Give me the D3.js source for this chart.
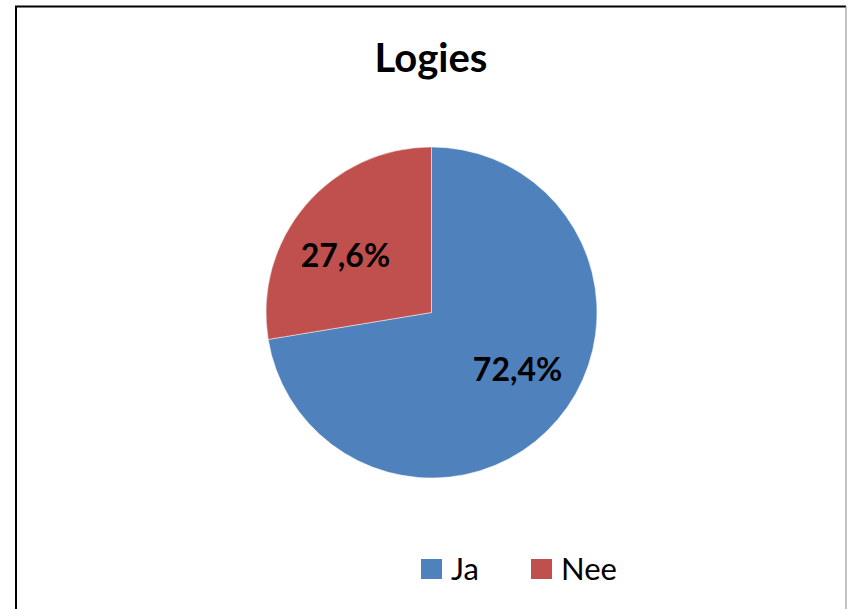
<!DOCTYPE html>
<html>
<head>
<meta charset="utf-8">
<script src="https://cdn.jsdelivr.net/npm/d3@7.9.0/dist/d3.min.js"></script>
<style>
  html, body { margin: 0; padding: 0; background: #fff; }
  svg { display: block; font-family: Lato, "Noto Sans", sans-serif; }
</style>
</head>
<body>
<svg id="chart" width="847" height="609"></svg>
<script>
const title = 'Logies';
const categories = ['Ja', 'Nee'];
const values = [72.4, 27.6];
const colors = ['#4F81BD', '#C0504D'];

const width = 847, height = 609;
const cx = 431.5, cy = 312.5, radius = 165.5;

let svg = d3.select('#chart');

// frame
svg.append('line').attr('x1', 15).attr('x2', 846).attr('y1', 6.5).attr('y2', 6.5)
  .attr('stroke', '#000').attr('stroke-width', 2);
svg.append('line').attr('x1', 16).attr('x2', 16).attr('y1', 6).attr('y2', height)
  .attr('stroke', '#000').attr('stroke-width', 2);
svg.append('line').attr('x1', 846).attr('x2', 846).attr('y1', 6).attr('y2', height)
  .attr('stroke', '#888').attr('stroke-width', 1);

svg.append('text')
  .attr('x', 431).attr('y', 72)
  .attr('text-anchor', 'middle')
  .style('font-size', '40px').style('font-weight', 'bold')
  .text(title);

let data = categories.map((c, i) => ({ label: c, value: values[i] }));
let pie = d3.pie().value(d => d.value).sort(null);
let arcData = pie(data);
let arcGenerator = d3.arc().innerRadius(0).outerRadius(radius);

let g = svg.append('g').attr('transform', `translate(${cx},${cy})`);

g.selectAll('path')
  .data(arcData)
  .enter()
  .append('path')
  .attr('d', arcGenerator)
  .attr('fill', (d, i) => colors[i])
  .attr('stroke', 'rgba(255,255,255,0.6)')
  .attr('stroke-width', 0.8);

// labels sit a little counter-clockwise of the mid angle
let labelShift = -7 * Math.PI / 180;
let labelRadius = 103;
g.selectAll('text.pct')
  .data(arcData)
  .enter()
  .append('text')
  .attr('class', 'pct')
  .attr('transform', d => {
    let a = (d.startAngle + d.endAngle) / 2 + labelShift;
    return `translate(${labelRadius * Math.sin(a)},${-labelRadius * Math.cos(a)})`;
  })
  .attr('text-anchor', 'middle')
  .attr('dy', '0.36em')
  .style('font-size', '32px').style('font-weight', 'bold')
  .text(d => d.data.value.toFixed(1).replace('.', ',') + '%');

// legend
let legendX = d3.scaleOrdinal().domain(categories).range([421, 531]);
let legend = svg.append('g');
categories.forEach((c, i) => {
  legend.append('rect')
    .attr('x', legendX(c)).attr('y', 559)
    .attr('width', 21).attr('height', 20)
    .attr('fill', colors[i]);
  legend.append('text')
    .attr('x', legendX(c) + 30).attr('y', 580)
    .style('font-size', '31px')
    .text(c);
});
</script>
</body>
</html>
